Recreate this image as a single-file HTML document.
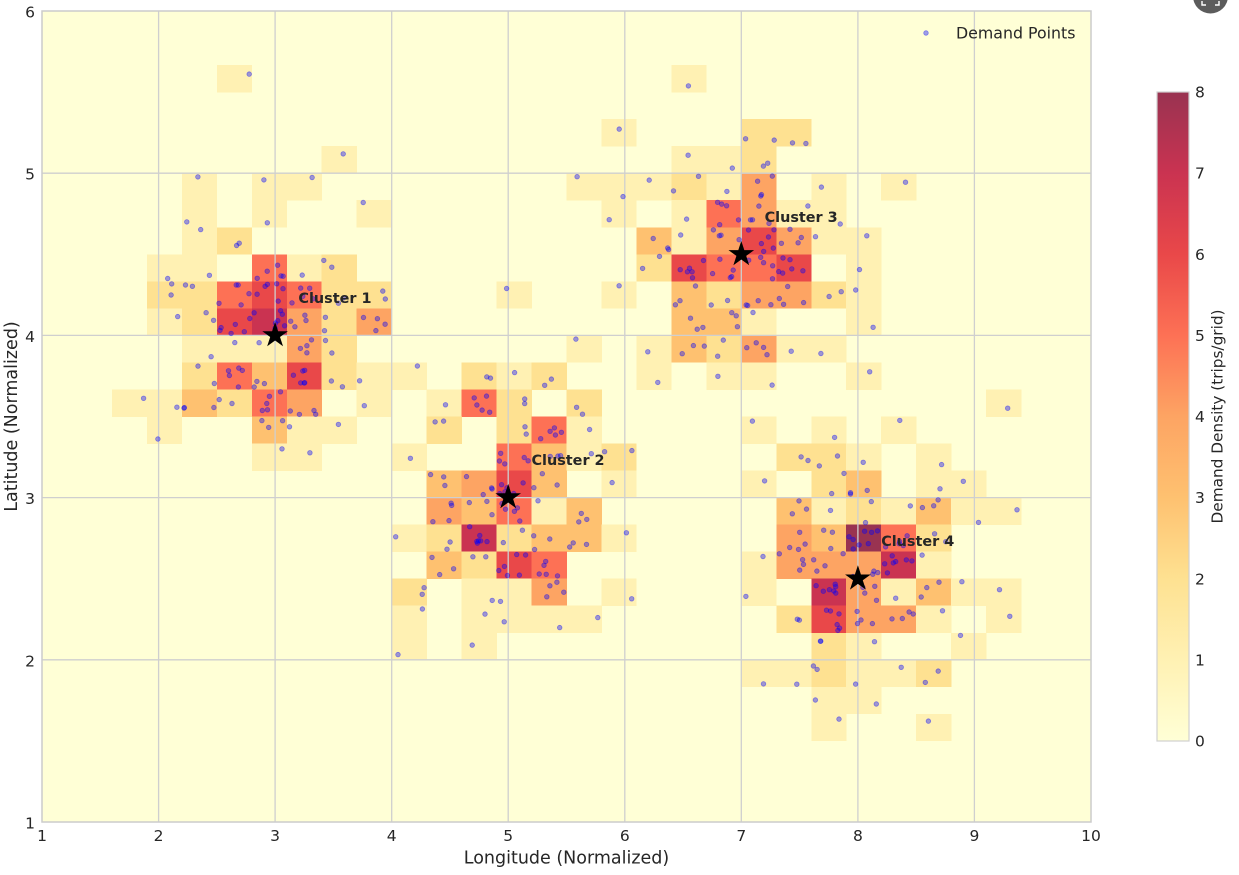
<!DOCTYPE html>
<html><head><meta charset="utf-8">
<style>
html,body{margin:0;padding:0;background:#fff;}
svg{display:block;font-family:"DejaVu Sans","Liberation Sans",sans-serif;}
</style></head><body>
<svg id="s" width="1239" height="875" viewBox="0 0 1239 875" xmlns="http://www.w3.org/2000/svg">
<defs>
<linearGradient id="cb" x1="0" y1="1" x2="0" y2="0">
<stop offset="0" stop-color="rgb(255,255,214)"/>
<stop offset="0.125" stop-color="rgb(255,241,179)"/>
<stop offset="0.25" stop-color="rgb(254,225,145)"/>
<stop offset="0.375" stop-color="rgb(254,193,112)"/>
<stop offset="0.5" stop-color="rgb(253,164,99)"/>
<stop offset="0.625" stop-color="rgb(253,113,85)"/>
<stop offset="0.75" stop-color="rgb(233,72,73)"/>
<stop offset="0.875" stop-color="rgb(202,51,81)"/>
<stop offset="1" stop-color="rgb(153,51,81)"/>
</linearGradient>
<path id="star" d="M0,-12.5 L2.80,-3.86 L11.89,-3.86 L4.54,1.47 L7.35,10.11 L0,4.77 L-7.35,10.11 L-4.54,1.47 L-11.89,-3.86 L-2.80,-3.86 Z"/>
</defs>
<rect x="42" y="11" width="1049" height="811" fill="rgb(255,255,214)"/>
<g id="cells" shape-rendering="crispEdges"></g>
<g stroke="#cfcfcf" stroke-width="1.3">
<line x1="158.6" y1="11" x2="158.6" y2="822"/>
<line x1="275.1" y1="11" x2="275.1" y2="822"/>
<line x1="391.7" y1="11" x2="391.7" y2="822"/>
<line x1="508.2" y1="11" x2="508.2" y2="822"/>
<line x1="624.8" y1="11" x2="624.8" y2="822"/>
<line x1="741.3" y1="11" x2="741.3" y2="822"/>
<line x1="857.9" y1="11" x2="857.9" y2="822"/>
<line x1="974.4" y1="11" x2="974.4" y2="822"/>
<line x1="42" y1="659.8" x2="1091" y2="659.8"/>
<line x1="42" y1="497.6" x2="1091" y2="497.6"/>
<line x1="42" y1="335.4" x2="1091" y2="335.4"/>
<line x1="42" y1="173.2" x2="1091" y2="173.2"/>
</g>
<g id="pts"></g>
<rect x="42" y="11" width="1049" height="811" fill="none" stroke="#cccccc" stroke-width="1.5"/>

<g fill="#000" stroke="#000" stroke-width="0.6">
<use href="#star" transform="translate(275.1,335.4)"/>
<use href="#star" transform="translate(508.2,497.4)"/>
<use href="#star" transform="translate(741.3,254.3)"/>
<use href="#star" transform="translate(857.9,578.7)"/>
</g>
<g font-weight="bold" font-size="14.4" fill="#262626">
<text x="298.4" y="303">Cluster 1</text>
<text x="531.5" y="465.2">Cluster 2</text>
<text x="764.6" y="222.2">Cluster 3</text>
<text x="881.2" y="546.2">Cluster 4</text>
</g>

<!-- legend -->
<circle cx="926" cy="33" r="2.3" fill="#0000ff" fill-opacity="0.38" stroke="#0000ff" stroke-opacity="0.4" stroke-width="0.8"/>
<text x="956" y="38.5" font-size="15.8" fill="#262626">Demand Points</text>

<!-- x ticks -->
<g font-size="15.5" fill="#262626" text-anchor="middle">
<text x="42" y="841">1</text>
<text x="158.6" y="841">2</text>
<text x="275.1" y="841">3</text>
<text x="391.7" y="841">4</text>
<text x="508.2" y="841">5</text>
<text x="624.8" y="841">6</text>
<text x="741.3" y="841">7</text>
<text x="857.9" y="841">8</text>
<text x="974.4" y="841">9</text>
<text x="1091" y="841">10</text>
</g>
<!-- y ticks -->
<g font-size="15.5" fill="#262626" text-anchor="end">
<text x="35" y="828.5">1</text>
<text x="35" y="666.3">2</text>
<text x="35" y="504.1">3</text>
<text x="35" y="341.9">4</text>
<text x="35" y="179.7">5</text>
<text x="35" y="17.5">6</text>
</g>
<text x="566.5" y="863.5" font-size="17.5" fill="#262626" text-anchor="middle">Longitude (Normalized)</text>
<text transform="translate(17,416.5) rotate(-90)" font-size="17.5" fill="#262626" text-anchor="middle">Latitude (Normalized)</text>

<!-- colorbar -->
<rect x="1157" y="92" width="32" height="649" fill="url(#cb)" stroke="#d0d0d0" stroke-width="1.2"/>
<g font-size="15.5" fill="#262626">
<text x="1195" y="746.5">0</text>
<text x="1195" y="665.4">1</text>
<text x="1195" y="584.3">2</text>
<text x="1195" y="503.1">3</text>
<text x="1195" y="422">4</text>
<text x="1195" y="340.9">5</text>
<text x="1195" y="259.8">6</text>
<text x="1195" y="178.6">7</text>
<text x="1195" y="97.5">8</text>
</g>
<text transform="translate(1222.5,416.5) rotate(-90)" font-size="15.3" fill="#262626" text-anchor="middle">Demand Density (trips/grid)</text>

<!-- corner icon -->
<circle cx="1210.5" cy="-4" r="17.5" fill="#5c5c5c"/>
<g stroke="#fff" stroke-width="1.4" fill="none">
<path d="M1202,1 L1202,5 L1206,5"/>
<path d="M1219,1 L1219,5 L1215,5"/>
</g>
</svg>
<script>
(function(){
var NS="http://www.w3.org/2000/svg";
var cols=["rgb(255,255,214)","rgb(255,241,179)","rgb(254,225,145)","rgb(254,193,112)","rgb(253,164,99)","rgb(253,113,85)","rgb(233,72,73)","rgb(202,51,81)","rgb(153,51,81)"];
var D=[[2,5,1],[2,18,1],
[4,16,1],[4,20,2],[4,21,2],
[5,8,1],[5,18,1],[5,19,1],[5,20,2],
[6,4,1],[6,6,1],[6,7,1],[6,15,1],[6,16,1],[6,17,1],[6,18,2],[6,19,1],[6,20,4],[6,22,1],[6,24,1],
[7,4,1],[7,6,1],[7,9,1],[7,16,1],[7,18,1],[7,19,5],[7,20,4],[7,21,1],[7,22,1],
[8,4,1],[8,5,2],[8,17,3],[8,18,1],[8,19,4],[8,20,6],[8,21,4],[8,22,1],[8,23,1],
[9,3,1],[9,4,1],[9,6,5],[9,7,1],[9,8,2],[9,17,2],[9,18,6],[9,19,5],[9,20,5],[9,21,6],[9,23,1],
[10,3,2],[10,4,2],[10,5,5],[10,6,6],[10,7,5],[10,8,2],[10,9,2],[10,13,1],[10,16,1],[10,18,3],[10,19,2],[10,20,4],[10,21,4],[10,22,2],[10,23,1],
[11,3,1],[11,4,2],[11,5,6],[11,6,7],[11,7,4],[11,8,2],[11,9,4],[11,18,3],[11,19,3],[11,20,1],[11,23,1],
[12,4,1],[12,5,1],[12,6,1],[12,7,4],[12,8,2],[12,15,1],[12,17,1],[12,18,3],[12,19,2],[12,20,4],[12,21,1],[12,22,1],
[13,4,2],[13,5,5],[13,6,3],[13,7,6],[13,8,2],[13,9,1],[13,10,1],[13,12,2],[13,13,1],[13,14,2],[13,17,1],[13,19,1],[13,20,1],[13,23,1],
[14,2,1],[14,3,1],[14,4,3],[14,5,2],[14,6,5],[14,7,4],[14,9,1],[14,11,1],[14,12,5],[14,13,2],[14,15,2],[14,27,1],
[15,3,1],[15,6,3],[15,7,1],[15,8,1],[15,11,2],[15,13,2],[15,14,5],[15,15,1],[15,20,1],[15,22,1],[15,24,1],
[16,6,1],[16,7,1],[16,10,1],[16,13,5],[16,14,3],[16,15,1],[16,16,2],[16,21,2],[16,22,2],[16,23,1],[16,25,1],
[17,11,3],[17,12,4],[17,13,6],[17,14,3],[17,16,1],[17,20,1],[17,22,2],[17,23,3],[17,25,1],[17,26,1],
[18,11,4],[18,12,3],[18,13,5],[18,14,1],[18,15,3],[18,21,3],[18,22,1],[18,23,2],[18,24,1],[18,25,3],[18,26,1],[18,27,1],
[19,10,1],[19,11,2],[19,12,7],[19,13,2],[19,14,3],[19,15,3],[19,16,1],[19,21,4],[19,22,3],[19,23,8],[19,24,5],[19,25,2],
[20,11,3],[20,12,2],[20,13,6],[20,14,5],[20,20,1],[20,21,4],[20,22,4],[20,23,4],[20,24,7],[20,25,1],
[21,10,2],[21,12,1],[21,13,1],[21,14,4],[21,16,1],[21,20,1],[21,22,7],[21,23,4],[21,24,1],[21,25,3],[21,26,1],[21,27,1],
[22,10,1],[22,12,1],[22,13,1],[22,14,1],[22,15,1],[22,21,2],[22,22,6],[22,23,4],[22,24,4],[22,25,1],[22,27,1],
[23,10,1],[23,12,1],[23,22,2],[23,23,1],[23,26,1],
[24,20,1],[24,21,1],[24,22,2],[24,23,1],[24,24,1],[24,25,2],
[25,22,1],[25,23,1],
[26,22,1],[26,25,1]];
var W=1049/30, H=811/30;
var gc=document.getElementById("cells"), gp=document.getElementById("pts");
var seed=12345;
function rnd(){seed|=0;seed=seed+0x6D2B79F5|0;var t=Math.imul(seed^seed>>>15,1|seed);t=t+Math.imul(t^t>>>7,61|t)^t;return((t^t>>>14)>>>0)/4294967296;}
for(var i=0;i<D.length;i++){
 var r=D[i][0],c=D[i][1],v=D[i][2];
 var x=42+c*W,y=11+r*H;
 var e=document.createElementNS(NS,"rect");
 e.setAttribute("x",x.toFixed(2));e.setAttribute("y",y.toFixed(2));
 e.setAttribute("width",(W+0.3).toFixed(2));e.setAttribute("height",(H+0.3).toFixed(2));
 e.setAttribute("fill",cols[v]);gc.appendChild(e);
 for(var k=0;k<v;k++){
  var p=document.createElementNS(NS,"circle");
  p.setAttribute("cx",(x+2+rnd()*(W-4)).toFixed(1));
  p.setAttribute("cy",(y+2+rnd()*(H-4)).toFixed(1));
  p.setAttribute("r","2.3");
  p.setAttribute("fill","#0000ff");p.setAttribute("fill-opacity","0.38");
  p.setAttribute("stroke","#0000ff");p.setAttribute("stroke-opacity","0.4");p.setAttribute("stroke-width","0.8");
  gp.appendChild(p);
 }
}
})();
</script>
</body></html>
